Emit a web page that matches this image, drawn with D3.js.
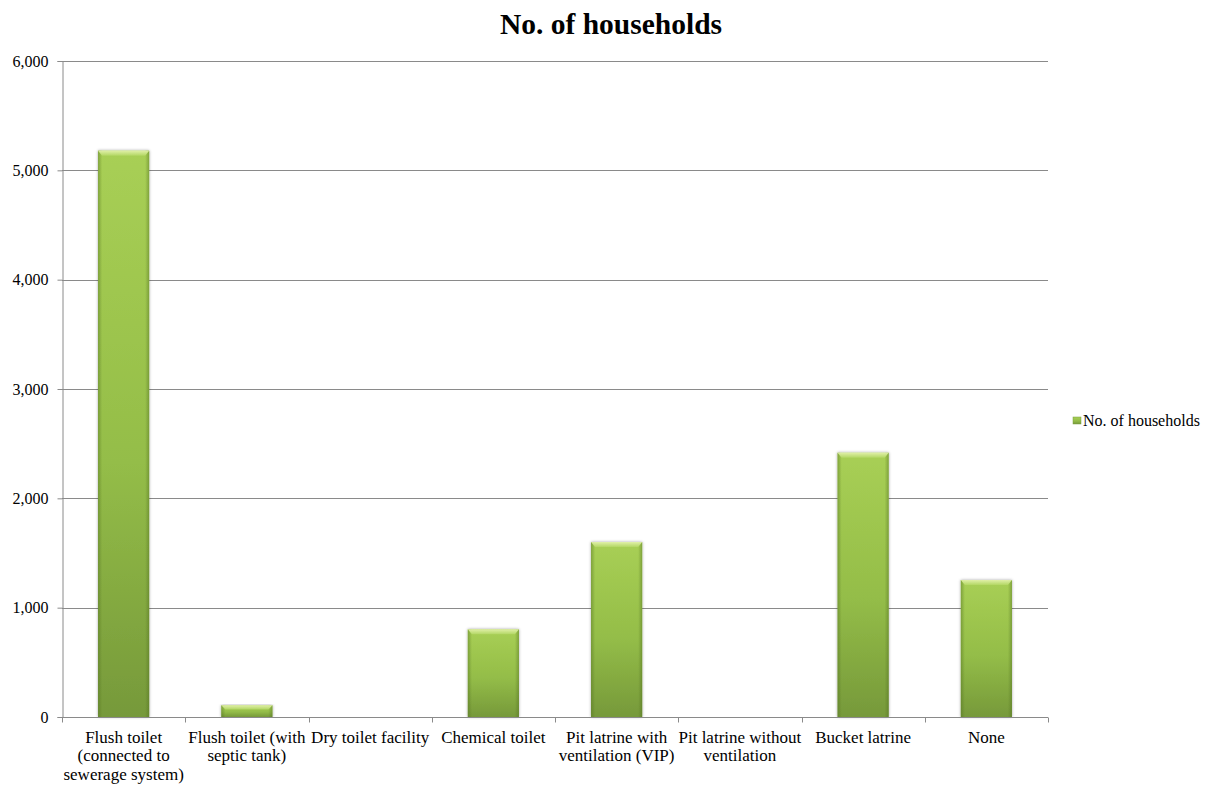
<!DOCTYPE html>
<html>
<head>
<meta charset="utf-8">
<script src="https://cdn.jsdelivr.net/npm/d3@7"></script>
<style>
  html, body { margin: 0; padding: 0; background: #fff; }
</style>
</head>
<body>
<svg id="chart" width="1215" height="786"></svg>
<script>
// Toilet facilities: number of households per type
const categories = [
  "Flush toilet (connected to sewerage system)",
  "Flush toilet (with septic tank)",
  "Dry toilet facility",
  "Chemical toilet",
  "Pit latrine with ventilation (VIP)",
  "Pit latrine without ventilation",
  "Bucket latrine",
  "None"
];
const categoryLines = [
  ["Flush toilet", "(connected to", "sewerage system)"],
  ["Flush toilet (with", "septic tank)"],
  ["Dry toilet facility"],
  ["Chemical toilet"],
  ["Pit latrine with", "ventilation (VIP)"],
  ["Pit latrine without", "ventilation"],
  ["Bucket latrine"],
  ["None"]
];
const values = [5180, 107, 0, 802, 1600, 0, 2417, 1253];
const yTicks = [0, 1000, 2000, 3000, 4000, 5000, 6000];
const seriesName = "No. of households";

const FONT = "'Times New Roman', Times, 'Liberation Serif', 'DejaVu Serif', serif";
const svg = d3.select("#chart");
const margin = { left: 62, right: 167, top: 61, bottom: 69 };
const W = 1215, H = 786;
const x0 = margin.left, x1 = W - margin.right;
const y0 = H - margin.bottom, y1 = margin.top;

const x = d3.scaleBand().domain(categories).range([x0, x1]).paddingInner(0.585).paddingOuter(0.2925);
const xOuter = d3.scaleBand().domain(categories).range([x0, x1]);
const y = d3.scaleLinear().domain([0, 6000]).range([y0, y1]);

// Gradients for the bevelled bars
const defs = svg.append("defs");
const vg = defs.append("linearGradient").attr("id", "barV").attr("x1", 0).attr("y1", 0).attr("x2", 0).attr("y2", 1);
vg.append("stop").attr("offset", "0%").attr("stop-color", "#a8cf55");
vg.append("stop").attr("offset", "55%").attr("stop-color", "#94bd48");
vg.append("stop").attr("offset", "100%").attr("stop-color", "#76993a");
const hg = defs.append("linearGradient").attr("id", "barH").attr("x1", 0).attr("y1", 0).attr("x2", 1).attr("y2", 0);
hg.append("stop").attr("offset", "0%").attr("stop-color", "#4f6e1e").attr("stop-opacity", 0.45);
hg.append("stop").attr("offset", "8%").attr("stop-color", "#4f6e1e").attr("stop-opacity", 0.0);
hg.append("stop").attr("offset", "92%").attr("stop-color", "#4f6e1e").attr("stop-opacity", 0.0);
hg.append("stop").attr("offset", "100%").attr("stop-color", "#4f6e1e").attr("stop-opacity", 0.45);
const tg = defs.append("linearGradient").attr("id", "barTop").attr("x1", 0).attr("y1", 0).attr("x2", 0).attr("y2", 1);
tg.append("stop").attr("offset", "0%").attr("stop-color", "#e6f3b0");
tg.append("stop").attr("offset", "100%").attr("stop-color", "#b4d866");
const sf = defs.append("filter").attr("id", "shadow").attr("x", "-20%").attr("y", "-5%").attr("width", "140%").attr("height", "110%");
sf.append("feGaussianBlur").attr("in", "SourceAlpha").attr("stdDeviation", 1.5).attr("result", "b");
sf.append("feComponentTransfer").attr("in", "b").attr("result", "s")
  .append("feFuncA").attr("type", "linear").attr("slope", 0.35);
const fm = sf.append("feMerge");
fm.append("feMergeNode").attr("in", "s");
fm.append("feMergeNode").attr("in", "SourceGraphic");

// Title
svg.append("text")
  .attr("x", 611).attr("y", 34)
  .attr("text-anchor", "middle")
  .style("font-family", FONT).style("font-size", "29.5px").style("font-weight", "bold")
  .attr("fill", "#000")
  .text(seriesName);

// Horizontal gridlines
svg.append("g").selectAll("line").data(yTicks.filter(d => d > 0)).join("line")
  .attr("x1", x0).attr("x2", x1)
  .attr("y1", d => Math.round(y(d)) + 0.5).attr("y2", d => Math.round(y(d)) + 0.5)
  .attr("stroke", "#8a8a8a").attr("stroke-width", 1);

// Y axis
const yAxis = svg.append("g")
  .attr("transform", `translate(${x0 + 0.5},0)`)
  .call(d3.axisLeft(y).tickValues(yTicks).tickSize(5).tickPadding(9).tickFormat(d3.format(",")));
yAxis.attr("font-family", null).attr("font-size", null);
yAxis.select(".domain").attr("stroke", "#8a8a8a");
yAxis.selectAll(".tick line").attr("stroke", "#8a8a8a");
yAxis.selectAll(".tick text").attr("fill", "#000").style("font-family", FONT).style("font-size", "16px");

// Bars
const bars = svg.append("g");
categories.forEach((c, i) => {
  const v = values[i];
  if (v <= 0) return;
  const bx = x(c), bw = x.bandwidth();
  const top = y(v), h = y(0) - y(v);
  const g = bars.append("g").attr("filter", "url(#shadow)");
  g.append("rect").attr("x", bx).attr("y", top).attr("width", bw).attr("height", h).attr("fill", "url(#barV)");
  g.append("rect").attr("x", bx).attr("y", top).attr("width", bw).attr("height", h).attr("fill", "url(#barH)");
  const bev = Math.min(5, h * 0.35);
  g.append("path")
    .attr("d", `M${bx},${top} L${bx + bw},${top} L${bx + bw - 4},${top + bev} L${bx + 4},${top + bev} Z`)
    .attr("fill", "url(#barTop)").attr("opacity", 0.9);
});

// X axis
const xAxis = svg.append("g")
  .attr("transform", `translate(0,${Math.round(y0) + 0.5})`);
xAxis.append("line").attr("x1", x0).attr("x2", x1).attr("stroke", "#8a8a8a");
const bounds = categories.map(c => xOuter(c)).concat([x1]);
xAxis.selectAll("line.tick").data(bounds).join("line")
  .attr("class", "tick")
  .attr("x1", d => Math.round(d) + 0.5).attr("x2", d => Math.round(d) + 0.5)
  .attr("y1", 0).attr("y2", 5).attr("stroke", "#8a8a8a");

const labels = svg.append("g").attr("fill", "#000").attr("text-anchor", "middle");
categories.forEach((c, i) => {
  const cx = xOuter(c) + xOuter.bandwidth() / 2;
  const t = labels.append("text").attr("x", cx).attr("y", y0 + 26)
    .style("font-family", FONT).style("font-size", "17px");
  categoryLines[i].forEach((ln, j) => {
    t.append("tspan").attr("x", cx).attr("dy", j === 0 ? 0 : 18.3).text(ln);
  });
});

// Legend
const lg = svg.append("g").attr("transform", "translate(1073,417)");
lg.append("rect").attr("x", 0).attr("y", 0).attr("width", 8).attr("height", 7).attr("fill", "url(#barV)")
  .attr("stroke", "#7a9e3c").attr("stroke-width", 0.5);
lg.append("text").attr("x", 10).attr("y", 8.5).style("font-family", FONT).style("font-size", "16px")
  .attr("fill", "#000").text(seriesName);
</script>
</body>
</html>
